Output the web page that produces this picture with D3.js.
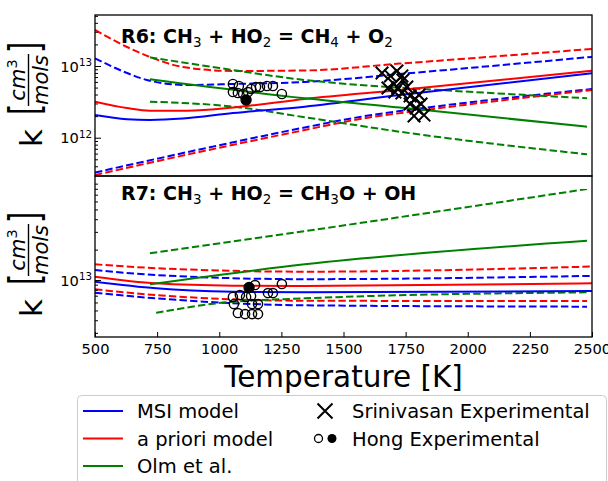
<!DOCTYPE html>
<html><head><meta charset="utf-8">
<script src="https://cdn.jsdelivr.net/npm/d3@7"></script>
<style>
body{margin:0;background:#fff}
svg{display:block;font-family:"DejaVu Sans",sans-serif}
text{white-space:pre}
</style>
</head><body><svg id="chart" width="608" height="481"></svg>
<script>
// ---------- data ----------
const xTicks = [500, 750, 1000, 1250, 1500, 1750, 2000, 2250, 2500];

// R6: CH3 + HO2 = CH4 + O2
const r6MsiT = [500, 629, 720, 854, 1055, 1344, 1727, 2500];
const r6MsiK = [2.07e12, 1.81e12, 1.77e12, 1.85e12, 2.21e12, 2.71e12, 3.94e12, 7.91e12];
const r6MsiUpT = [500, 629, 709, 870, 1055, 1344, 1727, 2500];
const r6MsiUpK = [1.28e13, 7.98e12, 6.38e12, 5.43e12, 5.61e12, 5.99e12, 7.73e12, 1.34e13];
const r6MsiLoT = [500, 920, 1344, 1566, 1888, 2500];
const r6MsiLoK = [3.27e11, 6.85e11, 1.39e12, 1.95e12, 2.77e12, 4.78e12];
const r6PriT = [500, 629, 720, 870, 1075, 1344, 1727, 2500];
const r6PriK = [3.18e12, 2.59e12, 2.38e12, 2.38e12, 2.68e12, 3.47e12, 4.62e12, 8.59e12];
const r6PriUpT = [500, 629, 721, 854, 1055, 1344, 1727, 2500];
const r6PriUpK = [3.18e13, 1.84e13, 1.34e13, 9.68e12, 8.52e12, 8.66e12, 1.08e13, 1.73e13];
const r6PriLoT = [500, 920, 1344, 1566, 1888, 2500];
const r6PriLoK = [3.02e11, 6.33e11, 1.28e12, 1.82e12, 2.59e12, 4.62e12];
const r6OlmT = [721, 1344, 1727, 2480];
const r6OlmK = [6.53e12, 3.55e12, 2.64e12, 1.42e12];
const r6OlmUpT = [721, 1000, 1344, 1566, 1888, 2480];
const r6OlmUpK = [1.32e13, 9.38e12, 6.38e12, 5.43e12, 4.62e12, 3.55e12];
const r6OlmLoT = [721, 1055, 1344, 1727, 2480];
const r6OlmLoK = [3.18e12, 2.71e12, 1.93e12, 1.21e12, 5.87e11];

const srinT = [1655, 1689, 1715, 1735, 1679, 1703, 1719, 1739, 1755, 1707, 1735, 1768, 1788, 1804, 1768, 1792, 1812, 1784, 1824];
const srinK = [7.98e12, 7.26e12, 8.51e12, 7.26e12, 4.93e12, 5.61e12, 4.93e12, 6.38e12, 5.09e12, 4.33e12, 4.20e12, 3.82e12, 3.47e12, 3.94e12, 2.95e12, 2.59e12, 2.95e12, 2.01e12, 2.07e12];

const hongR6T = [1055, 1079, 1055, 1075, 1096, 1116, 1128, 1148, 1164, 1192, 1216, 1252];
const hongR6K = [5.61e12, 5.26e12, 4.33e12, 4.20e12, 4.07e12, 4.33e12, 4.78e12, 5.09e12, 5.09e12, 5.26e12, 5.26e12, 4.07e12];
const hongR6FilledT = [1108];
const hongR6FilledK = [3.36e12];

// R7: CH3 + HO2 = CH3O + OH
const r7MsiT = [500, 746, 1055, 1344, 2500];
const r7MsiK = [9.62e12, 8.28e12, 7.66e12, 7.55e12, 7.78e12];
const r7MsiUpT = [500, 746, 1344, 2500];
const r7MsiUpK = [1.26e13, 1.12e13, 1.02e13, 1.10e13];
const r7MsiLoT = [500, 746, 1344, 2480];
const r7MsiLoK = [7.48e12, 6.59e12, 5.62e12, 5.45e12];
const r7PriT = [500, 746, 1055, 1344, 2500];
const r7PriK = [1.08e13, 9.27e12, 8.78e12, 8.72e12, 9.27e12];
const r7PriUpT = [500, 746, 1344, 2500];
const r7PriUpK = [1.43e13, 1.31e13, 1.21e13, 1.36e13];
const r7PriLoT = [500, 746, 1344, 2480];
const r7PriLoK = [8.09e12, 7.10e12, 6.24e12, 6.19e12];
const r7OlmT = [721, 1344, 2480];
const r7OlmK = [9.07e12, 1.43e13, 2.45e13];
const r7OlmUpT = [721, 1344, 2480];
const r7OlmUpK = [1.84e13, 3.05e13, 7.96e13];
const r7OlmLoT = [746, 990, 1344, 2480];
const r7OlmLoK = [4.74e12, 5.88e12, 6.59e12, 7.55e12];

const hongR7T = [1144, 1252, 1055, 1083, 1108, 1128, 1196, 1216, 1059, 1132, 1156, 1075, 1104, 1132, 1156];
const hongR7K = [8.92e12, 9.13e12, 6.79e12, 7.10e12, 6.79e12, 6.95e12, 7.43e12, 7.43e12, 5.78e12, 5.78e12, 5.78e12, 4.71e12, 4.60e12, 4.60e12, 4.60e12];
const hongR7FilledT = [1120];
const hongR7FilledK = [8.43e12];

const legendLines = ["MSI model", "a priori model", "Olm et al."];
const legendMarkers = ["Srinivasan Experimental", "Hong Experimental"];

// ---------- drawing ----------
const BLUE = "#0000ff", RED = "#ff0000", GREEN = "#008000";
const svg = d3.select("#chart");
const L = 95, R = 592;
const x = d3.scaleLinear().domain([500, 2500]).range([L, R]);
const yTop = d3.scaleLog().domain([Math.pow(10, 11.466), Math.pow(10, 13.711)]).range([176, 15]);
const yBot = d3.scaleLog().domain([Math.pow(10, 12.446), Math.pow(10, 14.03)]).range([336, 176]);

const defs = svg.append("defs");
defs.append("clipPath").attr("id", "cTop").append("rect").attr("x", L).attr("y", 15).attr("width", R - L).attr("height", 161);
defs.append("clipPath").attr("id", "cBot").append("rect").attr("x", L).attr("y", 176).attr("width", R - L).attr("height", 160);

function curve(g, y, T, K, color, dashed) {
  const pts = T.map((t, i) => [t, K[i]]);
  const line = d3.line().x(d => x(d[0])).y(d => y(d[1])).curve(d3.curveMonotoneX);
  g.append("path").attr("d", line(pts)).attr("fill", "none").attr("stroke", color)
    .attr("stroke-width", 2).attr("stroke-dasharray", dashed ? "7.4,3.2" : null);
}
function circles(g, y, T, K, filled, r) {
  g.selectAll(null).data(T.map((t, i) => [t, K[i]])).enter().append("circle")
    .attr("cx", d => x(d[0])).attr("cy", d => y(d[1])).attr("r", r)
    .attr("fill", filled ? "#000" : "none").attr("stroke", "#000").attr("stroke-width", 1.4);
}
function crosses(g, y, T, K, s) {
  g.selectAll(null).data(T.map((t, i) => [t, K[i]])).enter().append("path")
    .attr("d", d => { const cx = x(d[0]), cy = y(d[1]); return `M${cx - s},${cy - s}L${cx + s},${cy + s}M${cx - s},${cy + s}L${cx + s},${cy - s}`; })
    .attr("stroke", "#000").attr("stroke-width", 2).attr("fill", "none");
}

// Top panel
const gT = svg.append("g").attr("clip-path", "url(#cTop)");
curve(gT, yTop, r6MsiUpT, r6MsiUpK, BLUE, true);
curve(gT, yTop, r6MsiLoT, r6MsiLoK, BLUE, true);
curve(gT, yTop, r6PriUpT, r6PriUpK, RED, true);
curve(gT, yTop, r6PriLoT, r6PriLoK, RED, true);
curve(gT, yTop, r6OlmUpT, r6OlmUpK, GREEN, true);
curve(gT, yTop, r6OlmLoT, r6OlmLoK, GREEN, true);
curve(gT, yTop, r6MsiT, r6MsiK, BLUE, false);
curve(gT, yTop, r6PriT, r6PriK, RED, false);
curve(gT, yTop, r6OlmT, r6OlmK, GREEN, false);
crosses(gT, yTop, srinT, srinK, 6.3);
circles(gT, yTop, hongR6T, hongR6K, false, 4.6);
circles(gT, yTop, hongR6FilledT, hongR6FilledK, true, 5);

// Bottom panel
const gB = svg.append("g").attr("clip-path", "url(#cBot)");
curve(gB, yBot, r7MsiUpT, r7MsiUpK, BLUE, true);
curve(gB, yBot, r7MsiLoT, r7MsiLoK, BLUE, true);
curve(gB, yBot, r7PriUpT, r7PriUpK, RED, true);
curve(gB, yBot, r7PriLoT, r7PriLoK, RED, true);
curve(gB, yBot, r7OlmUpT, r7OlmUpK, GREEN, true);
curve(gB, yBot, r7OlmLoT, r7OlmLoK, GREEN, true);
curve(gB, yBot, r7MsiT, r7MsiK, BLUE, false);
curve(gB, yBot, r7PriT, r7PriK, RED, false);
curve(gB, yBot, r7OlmT, r7OlmK, GREEN, false);
circles(gB, yBot, hongR7T, hongR7K, false, 4.6);
circles(gB, yBot, hongR7FilledT, hongR7FilledK, true, 5);

// Axes
function yAxis(y, majors, minors) {
  const gMin = svg.append("g").attr("transform", `translate(${L},0)`)
    .call(d3.axisLeft(y).tickValues(minors).tickSizeInner(-3).tickSizeOuter(0).tickFormat(""));
  gMin.select(".domain").remove();
  gMin.selectAll("line").attr("stroke", "#000");
  const gMaj = svg.append("g").attr("transform", `translate(${L},0)`)
    .call(d3.axisLeft(y).tickValues(majors).tickSizeInner(-6).tickSizeOuter(0).tickPadding(3)
      .tickFormat(d => ""));
  gMaj.select(".domain").remove();
  gMaj.selectAll("line").attr("stroke", "#000");
  gMaj.selectAll("text").each(function (d) {
    const t = d3.select(this).attr("font-size", 14.67).attr("font-family", "DejaVu Sans").attr("fill", "#000").attr("dy", "0.35em");
    t.append("tspan").text("10");
    t.append("tspan").attr("font-size", 10.3).attr("dy", "-0.55em").text(String(Math.round(Math.log10(d))));
  });
}
const topMinor = [], botMinor = [];
[11, 12, 13].forEach(e => { for (let m = 2; m <= 9; m++) topMinor.push(m * Math.pow(10, e)); });
[12, 13].forEach(e => { for (let m = 2; m <= 9; m++) botMinor.push(m * Math.pow(10, e)); });
yAxis(yTop, [1e12, 1e13], topMinor.filter(v => v > yTop.domain()[0] && v < yTop.domain()[1]));
yAxis(yBot, [1e13], botMinor.filter(v => v > yBot.domain()[0] && v < yBot.domain()[1]));

const gx = svg.append("g").attr("transform", "translate(0,337)")
  .call(d3.axisBottom(x).tickValues(xTicks).tickSizeInner(-5).tickSizeOuter(0).tickPadding(7).tickFormat(d3.format("d")));
gx.select(".domain").remove();
gx.selectAll("line").attr("stroke", "#000");
gx.selectAll("text").attr("font-size", 14.67).attr("font-family", "DejaVu Sans").attr("fill", "#000");

// Frames
svg.append("rect").attr("x", L).attr("y", 15).attr("width", R - L).attr("height", 161).attr("fill", "none").attr("stroke", "#000").attr("stroke-width", 1.3);
svg.append("rect").attr("x", L).attr("y", 176).attr("width", R - L).attr("height", 161).attr("fill", "none").attr("stroke", "#000").attr("stroke-width", 1.3);

// Titles
function title(yb, parts) {
  const t = svg.append("text").attr("x", 121).attr("y", yb).attr("font-size", 19).attr("font-weight", "bold").attr("fill", "#000");
  let sub = false;
  parts.forEach(p => {
    const isSub = p[1];
    const ts = t.append("tspan").text(p[0]);
    if (isSub && !sub) ts.attr("dy", 4).attr("font-size", 13.5).attr("font-weight", "normal");
    else if (!isSub && sub) ts.attr("dy", -4);
    sub = isSub;
  });
}
title(42.7, [["R6: CH", 0], ["3", 1], [" + HO", 0], ["2", 1], [" = CH", 0], ["4", 1], [" + O", 0], ["2", 1]]);
title(200, [["R7: CH", 0], ["3", 1], [" + HO", 0], ["2", 1], [" = CH", 0], ["3", 1], ["O + OH", 0]]);

// Y labels
function yLabel(o) {
  const g = svg.append("g").attr("transform", "rotate(-90)").attr("fill", "#000");
  g.append("text").attr("x", -(147 + o)).attr("y", 42).attr("font-size", 31).text("k");
  g.append("text").attr("transform", `translate(${-(115 + o)},40) scale(1,1.5)`).attr("font-size", 29).text("[");
  const num = g.append("text").attr("x", -(80 + o)).attr("y", 25).attr("font-size", 21).attr("font-style", "italic").attr("text-anchor", "middle");
  num.append("tspan").text("cm");
  num.append("tspan").attr("font-size", 14.5).attr("dy", -8).attr("font-style", "normal").text("3");
  g.append("line").attr("x1", -(106 + o)).attr("x2", -(54 + o)).attr("y1", 28.5).attr("y2", 28.5).attr("stroke", "#000").attr("stroke-width", 1.4);
  g.append("text").attr("x", -(80 + o)).attr("y", 47.5).attr("font-size", 21).attr("font-style", "italic").attr("text-anchor", "middle").text("mols");
  g.append("text").attr("transform", `translate(${-(53 + o)},40) scale(1,1.5)`).attr("font-size", 29).text("]");
}
yLabel(0);
yLabel(170);

// X label
svg.append("text").attr("x", 343.5).attr("y", 386.5).attr("text-anchor", "middle").attr("font-size", 29.5).attr("fill", "#000").text("Temperature [K]");

// Legend
const lg = svg.append("g");
lg.append("rect").attr("x", 77.5).attr("y", 395.5).attr("width", 529).attr("height", 110).attr("rx", 4)
  .attr("fill", "#fff").attr("stroke", "#cccccc").attr("stroke-width", 1);
const rowY = [411, 438.5, 466];
[BLUE, RED, GREEN].forEach((c, i) => {
  lg.append("line").attr("x1", 83).attr("x2", 123).attr("y1", rowY[i]).attr("y2", rowY[i]).attr("stroke", c).attr("stroke-width", 2);
  lg.append("text").attr("x", 137).attr("y", rowY[i]).attr("dy", "0.36em").attr("font-size", 19.5).attr("fill", "#000").text(legendLines[i]);
});
{
  const cx = 325, cy = rowY[0], s = 7.5;
  lg.append("path").attr("d", `M${cx - s},${cy - s}L${cx + s},${cy + s}M${cx - s},${cy + s}L${cx + s},${cy - s}`).attr("stroke", "#000").attr("stroke-width", 2);
  lg.append("circle").attr("cx", 318.5).attr("cy", rowY[1]).attr("r", 4).attr("fill", "none").attr("stroke", "#000").attr("stroke-width", 1.3);
  lg.append("circle").attr("cx", 332).attr("cy", rowY[1]).attr("r", 4.5).attr("fill", "#000");
  legendMarkers.forEach((t, i) => lg.append("text").attr("x", 352).attr("y", rowY[i]).attr("dy", "0.36em").attr("font-size", 19.5).attr("fill", "#000").text(t));
}
</script></body></html>
